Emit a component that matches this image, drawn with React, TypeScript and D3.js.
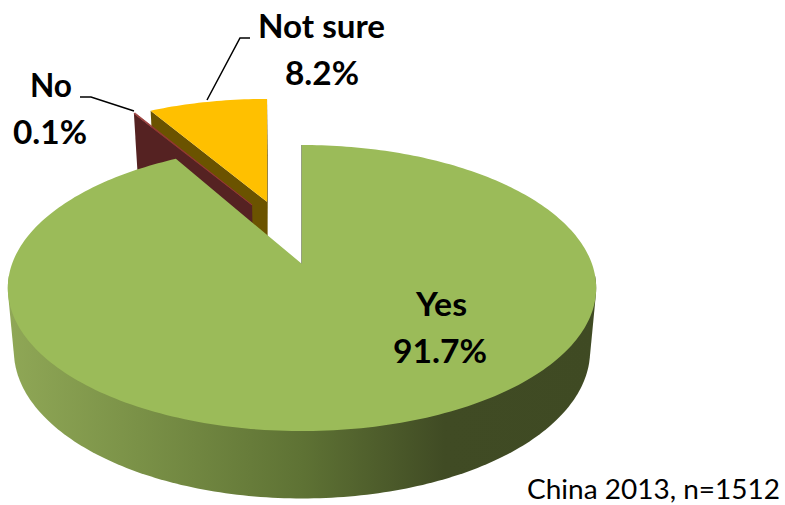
import React from "react";
import * as d3 from "d3";

// Survey shares, in percent, in clockwise order from twelve o'clock.
const categories = ["Yes", "No", "Not sure"];
const shares = [91.7, 0.1, 8.2];
const shareLabels = ["91.7%", "0.1%", "8.2%"];
// How far each slice is pulled out, as a fraction of the radius, and in which direction (degrees).
const pullDistance = [0, 0.498, 0.503];
const pullDirection = [0, -23.4, -16];
const footnote = "China 2013, n=1512";

const WIDTH = 785;
const HEIGHT = 505;

type Plane = { cx: number; cy: number; rx: number; ry: number };
const topPlane: Plane = { cx: 302, cy: 264, rx: 290, ry: 139 };
const basePlane: Plane = { cx: 302, cy: 326, rx: 284, ry: 143.5 };
const PERSPECTIVE = 0.168;
// Sideways pull is not foreshortened as strongly as the disc itself.
const PULL_SCALE = 0.87;

// Projects a point of the unit disc onto the tilted drawing plane.
function project(plane: Plane, u: number, v: number): [number, number] {
  const s = 1 / (1 - PERSPECTIVE * v);
  return [plane.cx + plane.rx * u * s, plane.cy + plane.ry * v * s];
}

const pieLayout = d3.pie<number>().sort(null).value((d) => d);
const slices = pieLayout(shares);
const outline = d3.line();

function offsetOf(i: number): [number, number] {
  const a = (pullDirection[i] * Math.PI) / 180;
  return [pullDistance[i] * Math.sin(a), -pullDistance[i] * Math.cos(a)];
}

function rimPoint(plane: Plane, i: number, angle: number): [number, number] {
  const [ox, oy] = offsetOf(i);
  const [x, y] = project(plane, Math.sin(angle), oy - Math.cos(angle));
  return [x + plane.rx * ox * PULL_SCALE, y];
}

function apexPoint(plane: Plane, i: number): [number, number] {
  const [ox, oy] = offsetOf(i);
  const [x, y] = project(plane, 0, oy);
  return [x + plane.rx * ox * PULL_SCALE, y];
}

function topFace(i: number): string {
  const { startAngle, endAngle } = slices[i];
  const steps = Math.max(2, Math.ceil((endAngle - startAngle) / 0.02));
  const rim = d3.range(steps + 1).map((k) => rimPoint(topPlane, i, startAngle + ((endAngle - startAngle) * k) / steps));
  return outline([apexPoint(topPlane, i), ...rim])! + "Z";
}

// The face exposed along a straight cut of a slice.
function cutFace(i: number, angle: number): string {
  return (
    outline([
      apexPoint(topPlane, i),
      rimPoint(topPlane, i, angle),
      rimPoint(basePlane, i, angle),
      apexPoint(basePlane, i),
    ])! + "Z"
  );
}

// Curved wall of the large slice: the hull of the front parts of its two rims.
function frontWall(i: number): string {
  const from = Math.max(slices[i].startAngle, (95 * Math.PI) / 180);
  const to = Math.min(slices[i].endAngle, (265 * Math.PI) / 180);
  const pts: [number, number][] = [];
  d3.range(0, 171).forEach((k) => {
    const a = from + ((to - from) * k) / 170;
    pts.push(rimPoint(topPlane, i, a), rimPoint(basePlane, i, a));
  });
  return outline(d3.polygonHull(pts)!)! + "Z";
}

const wallStops: [number, string][] = [
  [0, "#8fa756"],
  [0.22, "#7a9147"],
  [0.5, "#5e7234"],
  [0.74, "#404b24"],
  [1, "#3f4a23"],
];

const labelFont = "Lato, 'Open Sans', sans-serif";

function Label(props: { x: number; y: number; w: number; text: string }) {
  return (
    <text
      x={props.x}
      y={props.y}
      fontSize={33}
      fontFamily={labelFont}
      fontWeight={700}
      fill="#000"
      textLength={props.w}
      lengthAdjust="spacingAndGlyphs"
    >
      {props.text}
    </text>
  );
}

export default function App() {
  const [yes, no, notSure] = [0, 1, 2];
  return (
    <svg
      width={WIDTH}
      height={HEIGHT}
      viewBox={`0 0 ${WIDTH} ${HEIGHT}`}
      style={{ position: "absolute", left: 0, top: 0, display: "block", background: "#fff" }}
    >
      <defs>
        <linearGradient id="wallShade" gradientUnits="userSpaceOnUse" x1={10} x2={597} y1={0} y2={0}>
          {wallStops.map(([o, c]) => (
            <stop key={o} offset={o} stopColor={c} />
          ))}
        </linearGradient>
      </defs>

      {/* Not sure: cut faces first, top face last */}
      <path d={cutFace(notSure, slices[notSure].endAngle)} fill="#6b5300" />
      <path d={cutFace(notSure, slices[notSure].startAngle)} fill="#6b5300" />
      <path d={topFace(notSure)} fill="#ffc000" />

      {/* No: a sliver that shows mostly as its cut face */}
      <path d={cutFace(no, slices[no].startAngle)} fill="#552222" />
      <path d={topFace(no)} fill="#953735" stroke="#953735" strokeWidth={0.8} />

      {/* Yes: wall, cut edge and top face */}
      <path d={frontWall(yes)} fill="url(#wallShade)" />
      <path
        d={outline([apexPoint(topPlane, yes), rimPoint(topPlane, yes, slices[yes].startAngle)])!}
        stroke="#4f6228"
        strokeWidth={1.2}
        fill="none"
      />
      <path d={topFace(yes)} fill="#9bbb59" />

      {/* Leader lines */}
      <polyline points="80,97 91,97 134,111" fill="none" stroke="#000" strokeWidth={1.5} />
      <polyline points="250,38 240,38 207,100" fill="none" stroke="#000" strokeWidth={1.5} />

      {/* Labels */}
      <Label x={258} y={38} w={127} text={categories[notSure]} />
      <Label x={285} y={85} w={74} text={shareLabels[notSure]} />
      <Label x={30} y={97} w={42} text={categories[no]} />
      <Label x={13} y={144} w={74} text={shareLabels[no]} />
      <Label x={416} y={316} w={51} text={categories[yes]} />
      <Label x={393} y={363} w={94} text={shareLabels[yes]} />
      <text
        x={527}
        y={499}
        fontSize={26}
        textLength={253}
        lengthAdjust="spacingAndGlyphs"
        fontFamily={labelFont}
        fill="#000"
      >
        {footnote}
      </text>
    </svg>
  );
}
